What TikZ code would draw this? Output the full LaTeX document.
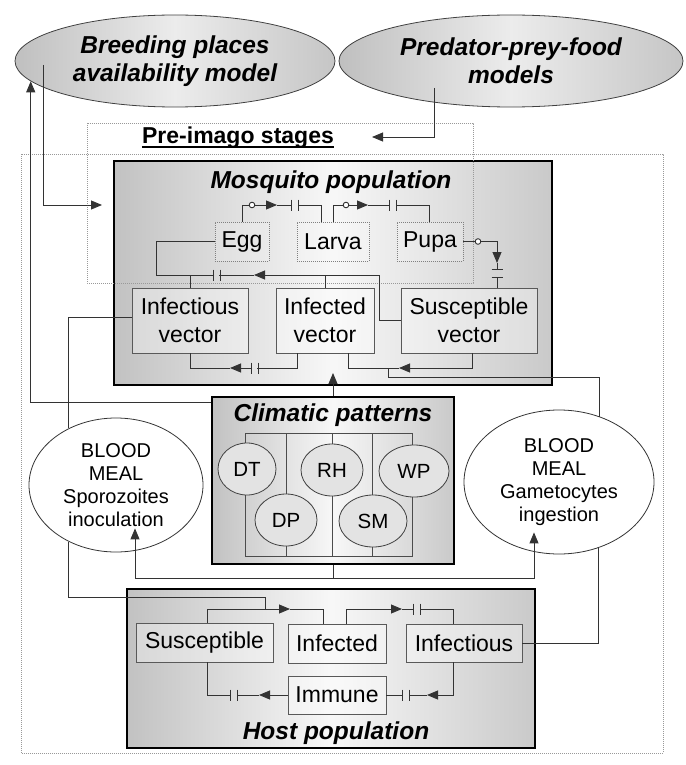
\documentclass[tikz,border=0pt]{standalone}
\usepackage{fontspec}
\setmainfont{Liberation Sans}
\usetikzlibrary{arrows.meta,shapes.geometric,calc}

\begin{document}
\begin{tikzpicture}[x=1pt, y=-1pt,
    link/.style={draw=black!80, line width=0.9pt},
    arr/.style={-{Triangle[length=11pt,width=9pt]}},
    popbox/.style={draw=black, line width=2.6pt, left color=gray!48, right color=gray!42, middle color=gray!6},
    ttl/.style={font=\fontsize{24.5}{28}\selectfont\bfseries\itshape, inner sep=0pt},
    compbox/.style={draw=black!65, line width=0.8pt, fill=white, fill opacity=0.35, text opacity=1, inner sep=0pt, align=center, font=\fontsize{23}{28}\selectfont},
    stagebox/.style={compbox, draw=black!50, dash pattern=on 1pt off 1pt, fill opacity=0.15},
    dotframe/.style={draw=black!40, line width=0.6pt, dash pattern=on 0.8pt off 1.2pt},
    modelell/.style={ellipse, draw=black!75, line width=0.8pt, left color=gray!50, right color=gray!45, middle color=gray!15, inner sep=0pt, align=center, font=\fontsize{24.5}{28}\selectfont\bfseries\itshape},
    mealell/.style={ellipse, draw=black!80, line width=0.8pt, fill=white, inner sep=0pt, align=center, font=\fontsize{20}{23}\selectfont},
    climell/.style={ellipse, draw=black!75, line width=0.8pt, fill=gray!22, inner sep=0pt, font=\fontsize{20.5}{24}\selectfont},
    gridline/.style={draw=black!70, line width=0.8pt},
    hgap/.pic={\draw[link] (-3.5,-5.5) -- (-3.5,5.5) (3.5,-5.5) -- (3.5,5.5);},
    vgap/.pic={\draw[link] (-5.5,-4) -- (5.5,-4) (-5.5,4) -- (5.5,4);},
    knot/.pic={\draw[link, fill=white] (0,0) circle[radius=2.8pt];}]
    \useasboundingbox (0,0) rectangle (685,765);

    \node[modelell, minimum width=320pt, minimum height=92pt] (breed) at (175,61) {Breeding places\\availability model};
    \node[modelell, minimum width=344pt, minimum height=92pt] (pred) at (511,61) {Predator-prey-food\\models};

    \node[popbox, minimum width=438pt, minimum height=224pt] (mosq) at (333,273) {};
    \node[popbox, minimum width=242pt, minimum height=167pt] (clim) at (333,480.5) {};
    \node[popbox, minimum width=408pt, minimum height=159pt] (host) at (331,668.5) {};

    \draw[dotframe] (87,123) rectangle (473,283);
    \draw[dotframe] (21,154) rectangle (663,753);

    \node[ttl, anchor=base] (mosqtitle) at (331,188) {Mosquito population};
    \node[ttl, anchor=base] (climtitle) at (333,421) {Climatic patterns};
    \node[ttl, anchor=base] (hosttitle) at (336,739) {Host population};
    \node[font=\fontsize{23}{28}\selectfont\bfseries, inner sep=0pt, anchor=base] (preimg) at (238,143) {Pre-imago stages};
    \draw[line width=1.8pt] ($(preimg.base west)+(0,4)$) -- ($(preimg.base east)+(0,4)$);

    \node[stagebox, minimum width=54pt, minimum height=39pt] (egg) at (242,241.5) {Egg};
    \node[stagebox, minimum width=72pt, minimum height=39pt] (larva) at (333,241.5) {Larva};
    \node[stagebox, minimum width=66pt, minimum height=39pt] (pupa) at (430,241.5) {Pupa};
    \node[compbox, minimum width=116pt, minimum height=65pt] (infs) at (190,320.5) {Infectious\\vector};
    \node[compbox, minimum width=98pt, minimum height=65pt] (infd) at (325,320.5) {Infected\\vector};
    \node[compbox, minimum width=136pt, minimum height=65pt] (susv) at (469,320.5) {Susceptible\\vector};

    \node[compbox, minimum width=137pt, minimum height=39pt] (hsus) at (204.5,642.5) {Susceptible};
    \node[compbox, minimum width=98pt, minimum height=39pt] (hinf) at (337,643.5) {Infected};
    \node[compbox, minimum width=116pt, minimum height=38pt] (hinft) at (464,643) {Infectious};
    \node[compbox, minimum width=98pt, minimum height=38pt] (himm) at (337,695) {Immune};

    \draw[gridline] (245,433) rectangle (412,556);
    \foreach \x in {286,332,372}
      \draw[gridline] (\x,433) -- (\x,556);
    \node[climell, minimum width=58pt, minimum height=52pt] (dt) at (247,469) {DT};
    \node[climell, minimum width=62pt, minimum height=52pt] (rh) at (332,470) {RH};
    \node[climell, minimum width=70pt, minimum height=52pt] (wp) at (414,471) {WP};
    \node[climell, minimum width=62pt, minimum height=52pt] (dp) at (286,520) {DP};
    \node[climell, minimum width=68pt, minimum height=52pt] (sm) at (373,521) {SM};

    \node[mealell, minimum width=174pt, minimum height=134pt] (inoc) at (116,485) {BLOOD\\MEAL\\Sporozoites\\inoculation};
    \node[mealell, minimum width=190pt, minimum height=144pt] (gam) at (559,482) {BLOOD\\MEAL\\Gametocytes\\ingestion};

    \draw[link,arr] ($(breed.west)+(29,4)$) |- (102,205);
    \draw[link,arr] ($(pred.center)+(-77,27)$) |- (372,137);
    \draw[link,arr] ($(clim.north west)+(0,7)$) -| (breed.188);

    \draw[link,arr] (egg.north) |- (277,205);
    \draw[link] (277,205) -- (291,205) (298,205) -| ($(larva.north)+(-12,0)$);
    \pic at (294.5,205) {hgap};
    \pic at (252,205) {knot};
    \draw[link,arr] (larva.north) |- (368,205);
    \draw[link] (368,205) -- (389,205) (396,205) -| ($(pupa.north)+(-1,0)$);
    \pic at (392.5,205) {hgap};
    \pic at (346,205) {knot};
    \draw[link,arr] (pupa.east) -| (497,263);
    \draw[link] (497,263) -- (497,269) (497,277) -- (497,288);
    \pic at (497,273) {vgap};
    \pic at (478,241.5) {knot};

    \draw[link,arr] (susv.west) -| (379,275) -- (254,275);
    \draw[link] (254,275) -- (219,275) (214,275) -| (156,241.5) -- (egg.west);
    \pic at (216.5,275) {hgap};
    \draw[link] (infd.north) -- ++(0,-13);
    \draw[link] (infs.north) -- ++(0,-13);

    \draw[link] ($(infd.south)+(-28,0)$) |- (257,368);
    \draw[link,arr] (252,368) -- (230,368);
    \draw[link] (230,368) -| (infs.south);
    \pic at (254.5,368) {hgap};
    \draw[link,arr] ($(susv.south)+(3,0)$) |- (399,368);
    \draw[link] (399,368) -| ($(infd.south)+(23,0)$);
    \draw[link] (gam.58) |- (388,377) -- (388,368);

    \draw[link] ($(infs.west)+(0,-3)$) -| (inoc.130);
    \draw[link] (inoc.230) |- (265,597) -- (265,609);

    \draw[link,arr] (clim.north) -- (333,373);
    \draw[link] (clim.south) -- (333,578);
    \draw[link,arr] (333,578) -| ($(inoc.south)+(19,-24)$);
    \draw[link,arr] (333,578) -| ($(gam.south)+(-25,-22)$);

    \draw[link,arr] ($(hsus.north)+(2.5,0)$) |- (290,609);
    \draw[link] (290,609) -| ($(hinf.north)+(-14,0)$);
    \draw[link,arr] ($(hinf.north)+(9,0)$) |- (402,609);
    \draw[link] (402,609) -- (413,609) (421,609) -| ($(hinft.north)+(-11,0)$);
    \pic at (417,609) {hgap};
    \draw[link,arr] ($(hinft.south)+(-11,0)$) |- (427,695);
    \draw[link] (427,695) -- (410,695) (402,695) -- (himm.east);
    \pic at (406,695) {hgap};
    \draw[link,arr] (himm.west) -- (259,695);
    \draw[link] (259,695) -- (237,695) (230,695) -| ($(hsus.south)+(2.5,0)$);
    \pic at (233.5,695) {hgap};
    \draw[link] (hinft.east) -| (gam.301);
\end{tikzpicture}
\end{document}
